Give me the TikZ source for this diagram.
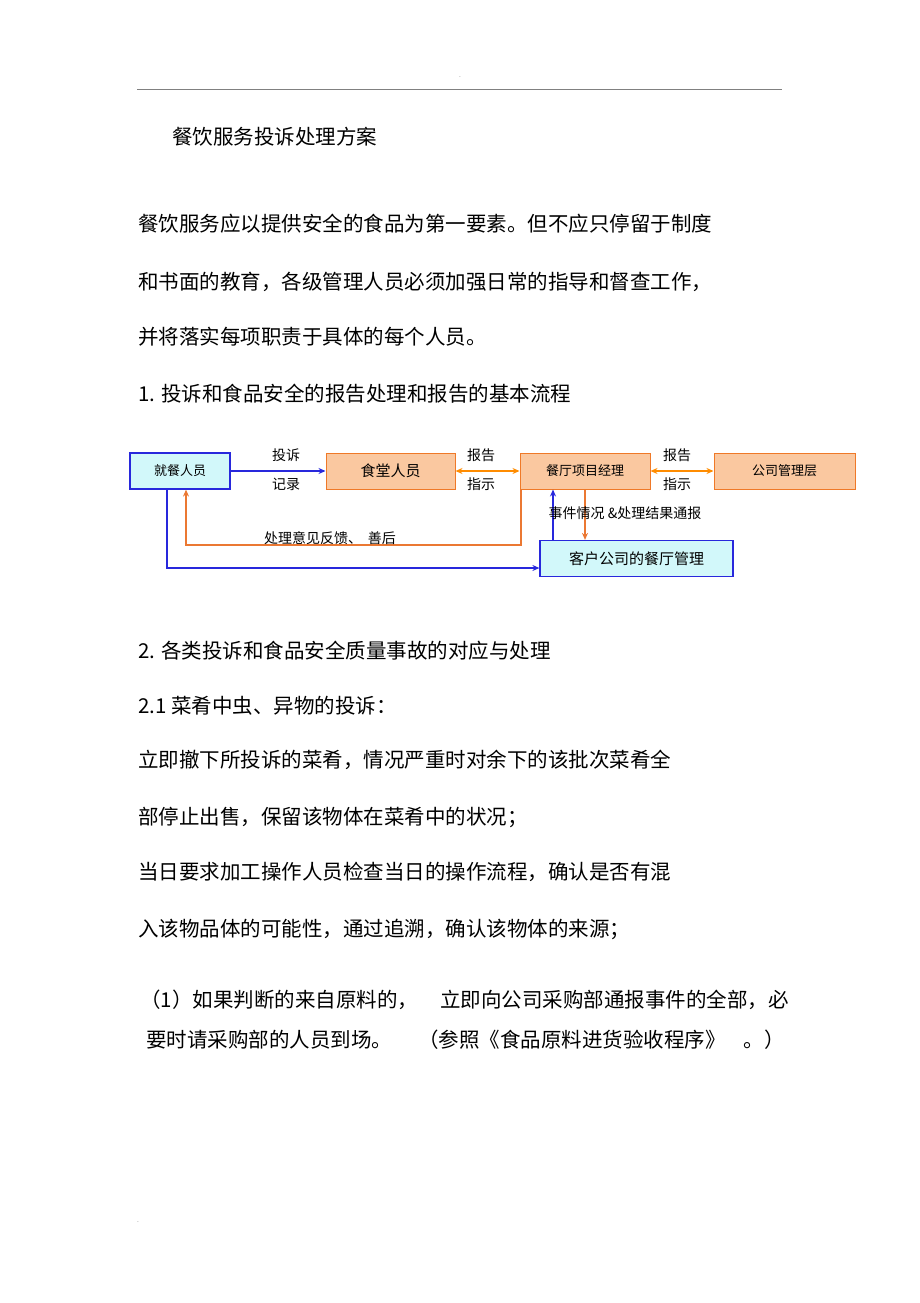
\documentclass[tikz,border=0pt]{standalone}
\usepackage{fontspec}
\setmainfont{Noto Sans CJK SC}
\usetikzlibrary{arrows.meta}
\definecolor{boxor}{RGB}{250,200,160}
\definecolor{lineor}{RGB}{235,120,50}
\definecolor{boxcy}{RGB}{210,248,250}
\definecolor{bl}{RGB}{40,40,220}
\tikzset{
 body/.style={anchor=west,inner sep=0,font=\fontsize{20.5}{23}\selectfont},
 obox/.style={draw=lineor!80!orange,fill=boxor,line width=1pt,minimum height=36pt,inner sep=0,font=\fontsize{13}{15}\selectfont},
 cbox/.style={draw=bl,fill=boxcy,line width=1.2pt,minimum height=36pt,inner sep=0,font=\fontsize{13}{15}\selectfont},
 barr/.style={draw=bl,line width=1.5pt,-{Stealth[length=7pt,width=6pt]}},
 oarr/.style={draw=lineor,line width=1.5pt,-{Stealth[length=7pt,width=6pt]}},
 odbl/.style={draw=orange!90!yellow,line width=1.8pt,{Stealth[length=7pt,width=6pt]}-{Stealth[length=7pt,width=6pt]}},
 lbl/.style={inner sep=0,font=\fontsize{14}{16}\selectfont},
}
\begin{document}
\begin{tikzpicture}[x=1pt,y=-1pt]
\useasboundingbox (0,0) rectangle (920,1303);
\draw[gray,line width=0.6pt] (137,89) -- (782,89);
\node[inner sep=0,font=\tiny] (dt) at (460,77) {.};
\node[inner sep=0,font=\tiny] (db) at (138,1222) {.};
\node[body] (t) at (172,137) {餐饮服务投诉处理方案};
\node[body] (p1) at (138,224) {餐饮服务应以提供安全的食品为第一要素。但不应只停留于制度};
\node[body] (p2) at (138,282) {和书面的教育，各级管理人员必须加强日常的指导和督查工作，};
\node[body] (p3) at (138,337) {并将落实每项职责于具体的每个人员。};
\node[body] (h1) at (138,394) {1. 投诉和食品安全的报告处理和报告的基本流程};
\node[body] (h2) at (138,651) {2. 各类投诉和食品安全质量事故的对应与处理};
\node[body] (h3) at (138,706) {2.1 菜肴中虫、异物的投诉：};
\node[body] (q1) at (138,760) {立即撤下所投诉的菜肴，情况严重时对余下的该批次菜肴全};
\node[body] (q2) at (138,817) {部停止出售，保留该物体在菜肴中的状况；};
\node[body] (q3) at (138,872) {当日要求加工操作人员检查当日的操作流程，确认是否有混};
\node[body] (q4) at (138,929) {入该物品体的可能性，通过追溯，确认该物体的来源；};
\node[body] (r1) at (140,1000) {（1）如果判断的来自原料的，\hspace{22pt}立即向公司采购部通报事件的全部，必};
\node[body] (r2) at (146,1040) {要时请采购部的人员到场。\hspace{26pt}（参照《食品原料进货验收程序》\hspace{18pt}。）};
% diagram
\node[cbox,minimum width=100pt] (a) at (180,471) {就餐人员};
\node[obox,minimum width=129pt,font=\fontsize{15}{17}\selectfont] (b) at (390.5,471) {食堂人员};
\node[obox,minimum width=130pt] (c) at (585,471) {餐厅项目经理};
\node[obox,minimum width=141pt] (d) at (784.5,471) {公司管理层};
\node[cbox,minimum width=193pt,font=\fontsize{15}{17}\selectfont] (e) at (636.5,558.5) {客户公司的餐厅管理};
\draw[barr] (a) -- (b);
\draw[odbl] (b) -- (c);
\draw[odbl] (c) -- (d);
\coordinate (a1) at (167,568);
\draw[barr] (a.south -| a1) -- (a1) -- (e.west |- a1);
\coordinate (o1) at (521,545);
\coordinate (o2) at (186,545);
\draw[oarr] (c.south -| o1) -- (o1) -- (o2) -- (a.south -| o2);
\coordinate (x1) at (553,0);
\draw[barr] (e.north -| x1) -- (c.south -| x1);
\coordinate (x2) at (585,0);
\draw[oarr] (c.south -| x2) -- (e.north -| x2);
\node[lbl] (l1) at (286,455) {投诉};
\node[lbl] (l2) at (286,484) {记录};
\node[lbl] (l3) at (481,455) {报告};
\node[lbl] (l4) at (481,484) {指示};
\node[lbl] (l5) at (677,455) {报告};
\node[lbl] (l6) at (677,484) {指示};
\node[lbl] (l7) at (625,513) {事件情况 \&处理结果通报};
\node[lbl] (l8) at (330,538) {处理意见反馈、\hspace{6pt}善后};
\end{tikzpicture}
\end{document}
